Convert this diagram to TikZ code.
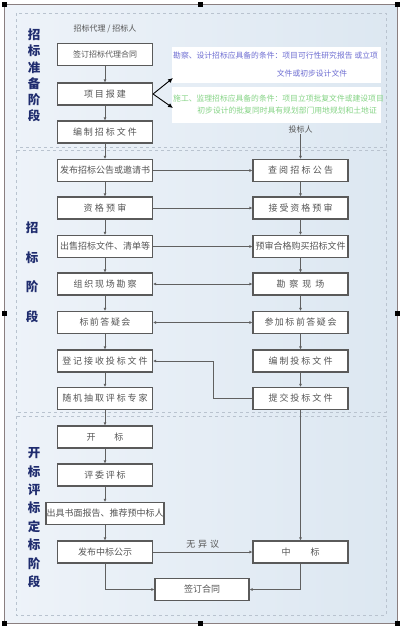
\documentclass[tikz,border=0pt]{standalone}
\usepackage{fontspec}
\newfontfamily\cjk{Noto Sans CJK SC}
\usetikzlibrary{arrows.meta}
\definecolor{bgl}{HTML}{EEF3F9}
\definecolor{bgr}{HTML}{DCE7F1}
\definecolor{frm}{HTML}{8A7F80}
\definecolor{dsh}{HTML}{B9C3CF}
\definecolor{boxd}{HTML}{5A5A5A}
\definecolor{txt}{HTML}{555555}
\definecolor{lab}{HTML}{1F2C6E}
\definecolor{nblue}{HTML}{6E6ED2}
\definecolor{ngreen}{HTML}{86D486}
\definecolor{lin}{HTML}{606060}
\makeatletter
\newcommand\spc[2]{\def\spc@sep{}\@tfor\spc@c:=#2\do{\spc@sep\spc@c\def\spc@sep{\hspace*{#1}}}}
\makeatother
\begin{document}
\begin{tikzpicture}[x=1pt,y=-1pt,
  stepbox/.style={draw=boxd,line width=1.1pt,fill=white,minimum width=95pt,minimum height=22pt,inner sep=0pt,font=\cjk\fontsize{9}{10}\selectfont,text=txt},
  lbl/.style={font=\cjk\bfseries\fontsize{12.5}{13}\selectfont,text=lab,inner sep=0pt},
  hdr/.style={font=\cjk\fontsize{8}{9}\selectfont,text=txt,inner sep=1pt},
  note/.style={font=\cjk\fontsize{7.8}{9}\selectfont,inner sep=0pt},
  arr/.style={draw=lin,line width=0.9pt,-{Latex[length=3pt,width=3pt]}},
  barr/.style={draw=lin,line width=0.9pt,{Latex[length=3pt,width=3pt]}-{Latex[length=3pt,width=3pt]}},
  barrow/.style={draw=black,line width=0.9pt,-{Latex[length=5pt,width=4.5pt]}},
  sect/.style={draw=dsh,dashed,line width=0.6pt},
  handle/.style={fill=black,minimum size=5pt,inner sep=0pt}]
\useasboundingbox (0,0) rectangle (400,627);
% background and frame
\shade[left color=bgl,right color=bgr] (4,4) rectangle (397,623);
\draw[frm,line width=0.8pt] (4,4) rectangle (397,623);
% sections
\draw[sect] (16,13) rectangle (386,147);
\draw[sect] (16,150) rectangle (386,412);
\draw[sect] (16,416) rectangle (386,615);
% section labels
\foreach \c [count=\i] in {招,标,准,备,阶,段}
  \node[lbl] (sa\i) at (34,{35+16.2*(\i-1)}) {\c};
\foreach \c [count=\i] in {招,标,阶,段}
  \node[lbl] (sb\i) at (32,{227.5+29.8*(\i-1)}) {\c};
\foreach \c [count=\i] in {开,标,评,标,定,标,阶,段}
  \node[lbl] (sc\i) at (34,{453+18.4*(\i-1)}) {\c};
% notes
\fill[white] (172,47) rectangle (381,83);
\fill[white] (172,87) rectangle (381,123);
\node[note,text=nblue,anchor=west] (n1a) at (173,56) {勘察、设计招标应具备的条件：项目可行性研究报告\hspace{2pt}或立项};
\node[note,text=nblue] (n1b) at (312,74) {文件或初步设计文件};
\node[note,text=ngreen,anchor=west] (n2a) at (173,99) {施工、监理招标应具备的条件：项目立项批复文件或建设项目};
\node[note,text=ngreen,anchor=east] (n2b) at (377,111) {初步设计的批复同时具有规划部门用地规划和土地证};
\coordinate (p1) at (173,78);
\coordinate (p2) at (173,108);
% headers
\node[hdr] (hL) at (105,29) {招标代理 / 招标人};
\node[hdr] (hR) at (300.5,129) {投标人};
% left column
\node[stepbox,font=\cjk\fontsize{8}{9}\selectfont] (L1) at (105,54.5) {签订招标代理合同};
\node[stepbox] (L2) at (105,94) {\spc{2pt}{项目报建}};
\node[stepbox] (L3) at (105,132) {\spc{2pt}{编制招标文件}};
\node[stepbox] (L4) at (105,170.5) {发布招标公告或邀请书};
\node[stepbox] (L5) at (105,208) {\spc{2.3pt}{资格预审}};
\node[stepbox] (L6) at (105,246.5) {出售招标文件、清单等};
\node[stepbox] (L7) at (105,284) {\spc{1.8pt}{组织现场勘察}};
\node[stepbox] (L8) at (105,322.5) {\spc{1.5pt}{标前答疑会}};
\node[stepbox] (L9) at (105,361) {\spc{1.9pt}{登记接收投标文件}};
\node[stepbox] (L10) at (105,398.5) {\spc{1.9pt}{随机抽取评标专家}};
\node[stepbox] (L11) at (105,437) {\spc{19pt}{开标}};
\node[stepbox] (L12) at (105,475) {\spc{1.7pt}{评委评标}};
\node[stepbox,minimum width=118pt] (L13) at (105,513.5) {出具书面报告、推荐预中标人};
\node[stepbox] (L14) at (105,552) {发布中标公示};
\node[stepbox,minimum width=94pt] (L15) at (202,589.5) {签订合同};
% right column
\node[stepbox] (R1) at (300.5,170.5) {\spc{2.2pt}{查阅招标公告}};
\node[stepbox] (R2) at (300.5,208) {\spc{2pt}{接受资格预审}};
\node[stepbox] (R3) at (300.5,246.5) {预审合格购买招标文件};
\node[stepbox] (R4) at (300.5,284) {\spc{4pt}{勘察现场}};
\node[stepbox] (R5) at (300.5,322.5) {\spc{1.5pt}{参加标前答疑会}};
\node[stepbox] (R6) at (300.5,361) {\spc{2pt}{编制投标文件}};
\node[stepbox] (R7) at (300.5,398.5) {\spc{2pt}{提交投标文件}};
\node[stepbox] (R8) at (300.5,552) {\spc{20pt}{中标}};
% left chain
\foreach \a/\b in {L1/L2,L2/L3,L3/L4,L4/L5,L5/L6,L6/L7,L7/L8,L8/L9,L9/L10,L10/L11,L11/L12,L12/L13,L13/L14}
  \draw[arr] (\a) -- (\b);
% right chain
\draw[arr] (hR) -- (R1);
\foreach \a/\b in {R1/R2,R2/R3,R3/R4,R4/R5,R5/R6,R6/R7,R7/R8}
  \draw[arr] (\a) -- (\b);
% notes arrows
\draw[barrow] (L2.east) -- (p1);
\draw[barrow] (L2.east) -- (p2);
% horizontals
\draw[arr] (L4) -- (R1);
\draw[arr] (L5) -- (R2);
\draw[arr] (L6) -- (R3);
\draw[barr] (L7) -- (R4);
\draw[barr] (L8) -- (R5);
\coordinate (k) at (213,398.5);
\draw[arr] (R7.west) -- (k) |- (L9.east);
\draw[arr] (L14) -- node[hdr,above=2pt,font=\cjk\fontsize{9}{10}\selectfont] (ny) {\spc{3pt}{无异议}} (R8);
\draw[arr] (L14.south) |- (L15.west);
\draw[arr] (R8.south) |- (L15.east);
% handles
\node[handle] (h1) at (4,4) {};
\node[handle] (h2) at (200,4) {};
\node[handle] (h3) at (397,4) {};
\node[handle] (h4) at (4,313) {};
\node[handle] (h5) at (397,313) {};
\node[handle] (h6) at (4,623) {};
\node[handle] (h7) at (200,623) {};
\node[handle] (h8) at (397,623) {};
\end{tikzpicture}
\end{document}
